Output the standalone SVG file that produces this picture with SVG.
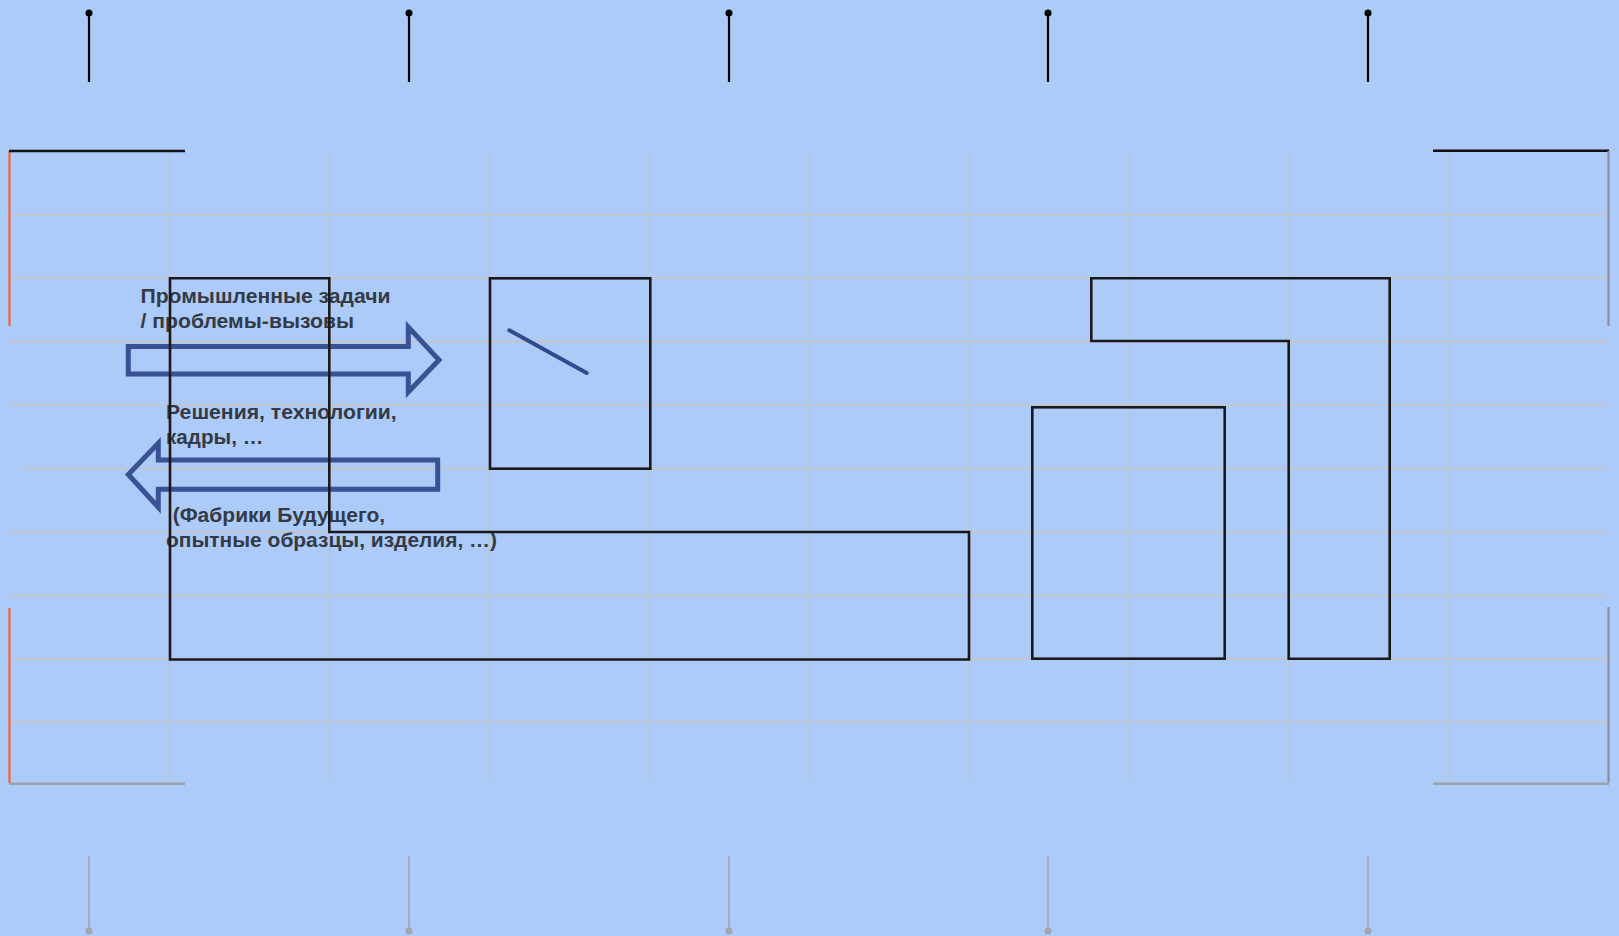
<svg xmlns="http://www.w3.org/2000/svg" width="1619" height="936" viewBox="0 0 1619 936">
<style>
.grid{stroke:#C6C3C0;stroke-width:1.6;fill:none}
.blk{stroke:#1A1A1A;stroke-width:2.6;fill:none;stroke-linejoin:miter}
.pin{stroke:#000;stroke-width:2.2}
.pinb{stroke:#A2A6AA;stroke-width:1.6}
.arr{stroke:#3A5295;stroke-width:5;fill:none;stroke-linejoin:miter}
.lbl{font-family:"Liberation Sans",Arial,sans-serif;font-weight:bold;font-size:20.5px;fill:#343A46}
</style>
<rect x="0" y="0" width="1619" height="936" fill="#ACCBF8"/>
<g id="grid">
<path class="grid" d="M169.5 151V781M329.5 151V781M489.5 151V781M649.5 151V781M809.5 151V781M969.5 151V781M1129.5 151V781M1289.5 151V781M1449.5 151V781"/>
<path class="grid" d="M10 215H1608M10 278.3H1608M10 341.6H1608M10 405H1608M22 468.5H1608M10 532H1608M10 595.5H1608M10 659H1608M10 721.5H1608"/>
</g>
<g id="frame">
<line x1="9.5" y1="151" x2="9.5" y2="326" stroke="#F0603A" stroke-width="2.2"/>
<line x1="9.5" y1="608" x2="9.5" y2="783" stroke="#F0603A" stroke-width="2.2"/>
<line x1="9" y1="151" x2="185" y2="151" stroke="#111" stroke-width="2.6"/>
<line x1="1433" y1="150.7" x2="1609" y2="150.7" stroke="#111" stroke-width="2.6"/>
<line x1="1608.5" y1="151" x2="1608.5" y2="326" stroke="#8A9099" stroke-width="2.2"/>
<line x1="1608.5" y1="607" x2="1608.5" y2="783" stroke="#8A9099" stroke-width="2.2"/>
<line x1="9" y1="783.7" x2="185" y2="783.7" stroke="#9CA2AA" stroke-width="2.6"/>
<line x1="1433" y1="783.7" x2="1609" y2="783.7" stroke="#9CA2AA" stroke-width="2.6"/>
</g>
<g id="pins-top">
<line class="pin" x1="89" y1="13" x2="89" y2="82"/><circle cx="89" cy="13" r="3.5"/>
<line class="pin" x1="409" y1="13" x2="409" y2="82"/><circle cx="409" cy="13" r="3.5"/>
<line class="pin" x1="729" y1="13" x2="729" y2="82"/><circle cx="729" cy="13" r="3.5"/>
<line class="pin" x1="1048" y1="13" x2="1048" y2="82"/><circle cx="1048" cy="13" r="3.5"/>
<line class="pin" x1="1368" y1="13" x2="1368" y2="82"/><circle cx="1368" cy="13" r="3.5"/>
</g>
<g id="pins-bottom" fill="#A2A6AA">
<line class="pinb" x1="89" y1="856" x2="89" y2="931"/><circle cx="89" cy="931" r="3.5"/>
<line class="pinb" x1="409" y1="856" x2="409" y2="931"/><circle cx="409" cy="931" r="3.5"/>
<line class="pinb" x1="729" y1="856" x2="729" y2="931"/><circle cx="729" cy="931" r="3.5"/>
<line class="pinb" x1="1048" y1="856" x2="1048" y2="931"/><circle cx="1048" cy="931" r="3.5"/>
<line class="pinb" x1="1368" y1="856" x2="1368" y2="931"/><circle cx="1368" cy="931" r="3.5"/>
</g>
<g id="labels">
<text class="lbl" x="140.5" y="303.3" textLength="250" lengthAdjust="spacingAndGlyphs">Промышленные задачи</text>
<text class="lbl" x="140.5" y="328.3" textLength="213.5" lengthAdjust="spacingAndGlyphs">/ проблемы-вызовы</text>
<text class="lbl" x="166" y="419.3" textLength="230.7" lengthAdjust="spacingAndGlyphs">Решения, технологии,</text>
<text class="lbl" x="166" y="444.3" textLength="97.3" lengthAdjust="spacingAndGlyphs">кадры, …</text>
<text class="lbl" x="172.7" y="521.7" textLength="212.5" lengthAdjust="spacingAndGlyphs">(Фабрики Будущего,</text>
<text class="lbl" x="166" y="546.7" textLength="331" lengthAdjust="spacingAndGlyphs">опытные образцы, изделия, …)</text>
</g>
<g id="connectors">
<path id="arrow-right" class="arr" d="M128.3 346.5H408.3V327L439 360L408.3 392V374H128.3Z"/>
<path id="arrow-left" class="arr" d="M437.7 460H158.3V443.3L128.3 474.5L158.3 507.3V489.3H437.7Z"/>
</g>
<g id="node-left">
<path class="blk" d="M170 278.3H329.3V532H969V659.5H170Z"/>
</g>
<g id="node-square">
<rect class="blk" x="490" y="278.3" width="160.3" height="190.4"/>
<line x1="509.3" y1="330.3" x2="586.7" y2="373" stroke="#2F4C8E" stroke-width="4" stroke-linecap="round"/>
</g>
<g id="node-right-l">
<path class="blk" d="M1091.3 278.3H1389.7V658.7H1288.7V341H1091.3Z"/>
</g>
<g id="node-right-rect">
<rect class="blk" x="1032.3" y="407.3" width="192.4" height="251.4"/>
</g>
</svg>
